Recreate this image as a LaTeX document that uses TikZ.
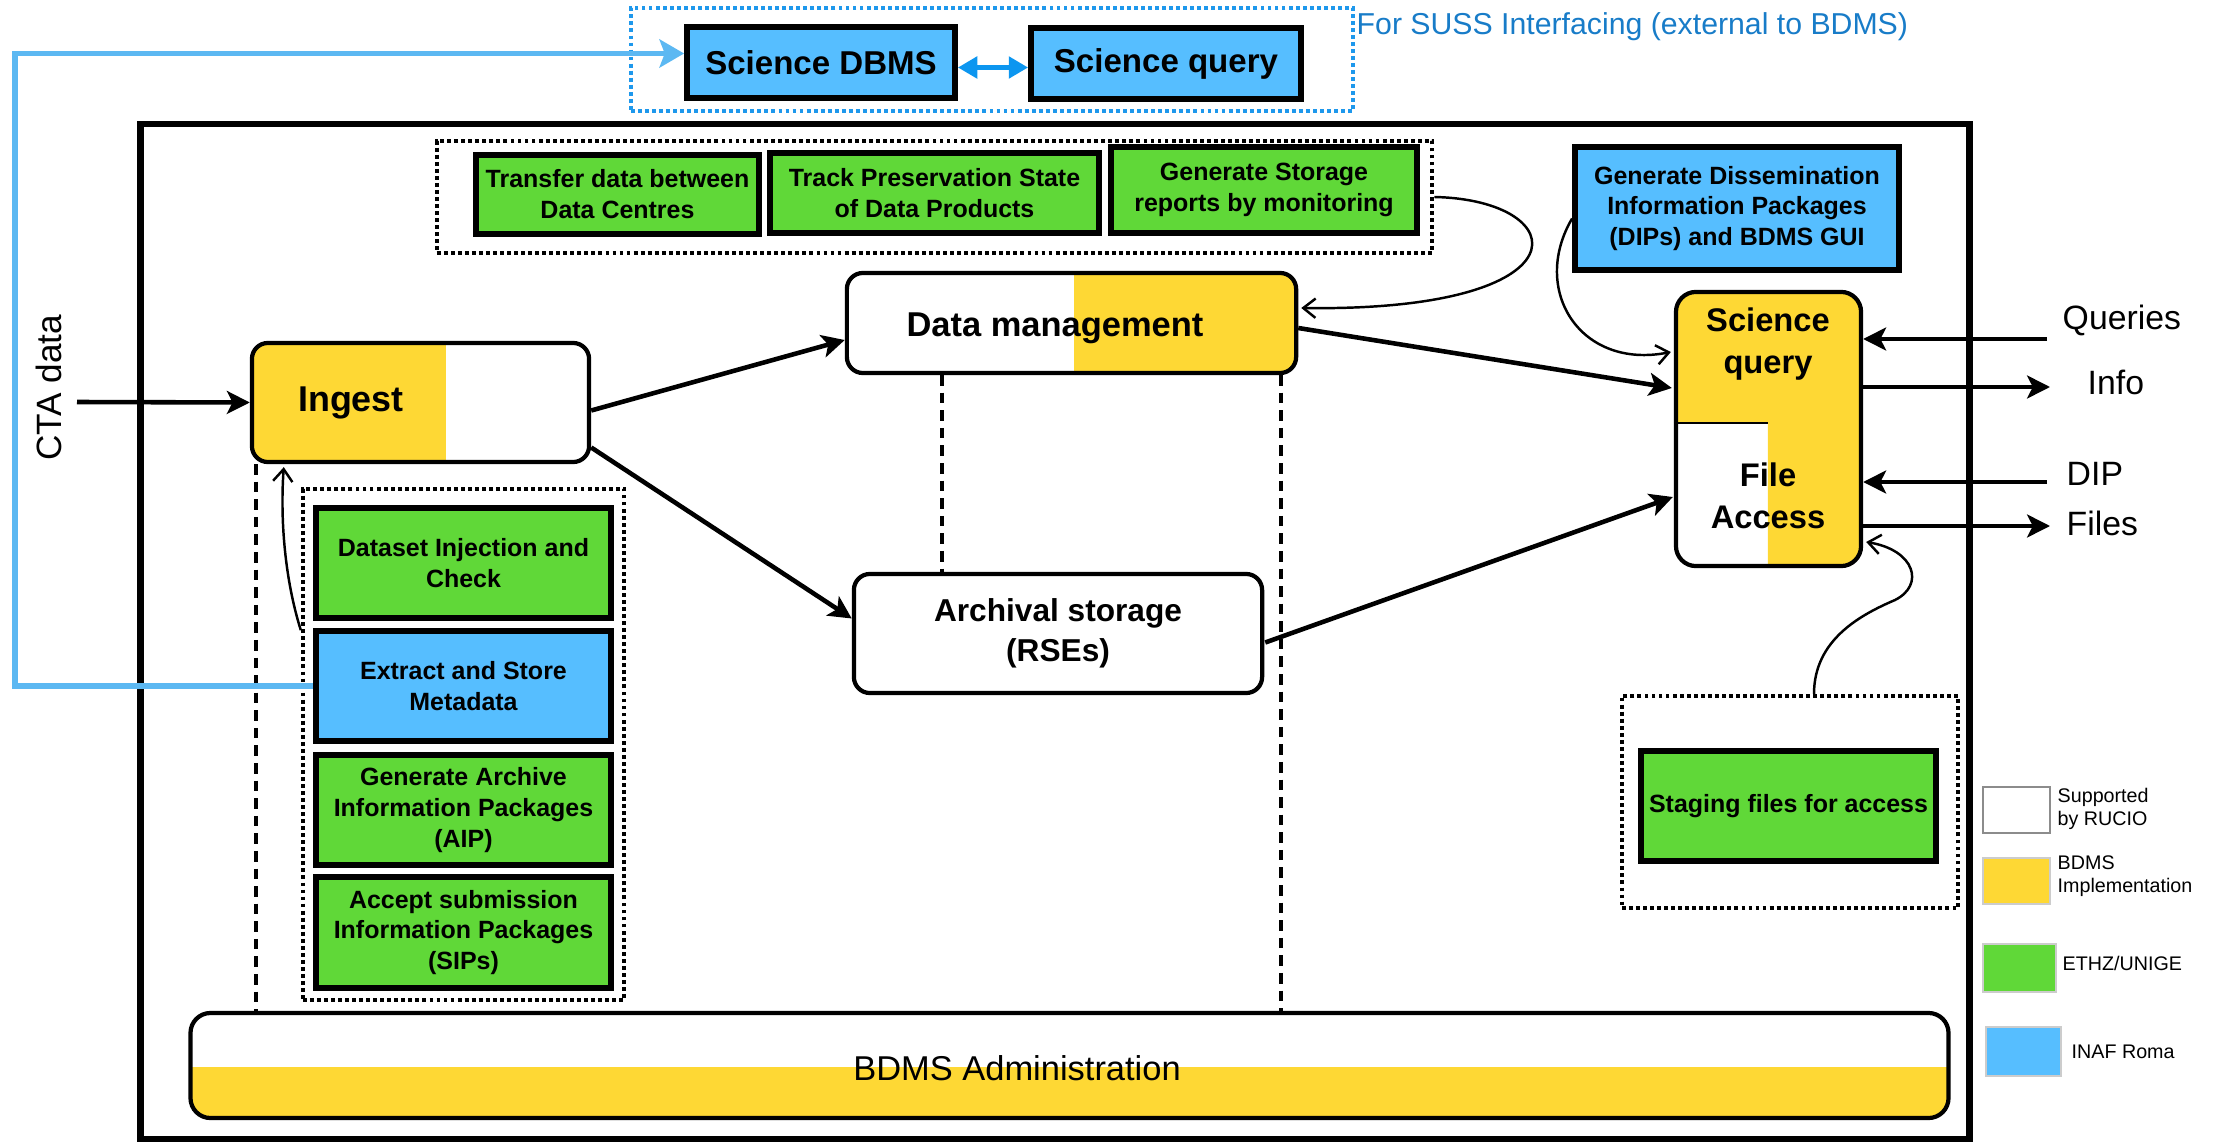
\documentclass[tikz,border=0pt]{standalone}
\usepackage{fontspec}
\setmainfont{Liberation Sans}
\usetikzlibrary{arrows.meta,calc}

\definecolor{bdmsyellow}{RGB}{254,216,52}
\definecolor{ethgreen}{RGB}{96,216,56}
\definecolor{inafblue}{RGB}{86,190,255}
\definecolor{linkblue}{RGB}{92,184,242}
\definecolor{sussblue}{RGB}{30,152,236}
\definecolor{susstext}{RGB}{24,124,200}
\definecolor{dblblue}{RGB}{12,150,240}

\begin{document}
\begin{tikzpicture}[x=0.01cm,y=-0.01cm,
  boxfont/.style={font=\fontsize{7.1}{8.8}\selectfont\bfseries},
  task/.style={draw=black,line width=1.6pt,fill=ethgreen,boxfont,align=center,inner sep=0pt},
  inaf/.style={task,fill=inafblue},
  proc/.style={draw=black,line width=1.2pt,rounded corners=0.16cm,inner sep=0pt,align=center},
  yfill/.style n args={4}{path picture={\fill[bdmsyellow,sharp corners] let \p1=(path picture bounding box.north west), \p2=(path picture bounding box.south east) in ({\x1+#1*(\x2-\x1)},{\y1+#3*(\y2-\y1)}) rectangle ({\x1+#2*(\x2-\x1)},{\y1+#4*(\y2-\y1)});}},
  dotbox/.style={draw=black,line width=1.2pt,dash pattern=on 1.1pt off 0.9pt,inner sep=0pt},
  dashline/.style={line width=1.1pt,dash pattern=on 3pt off 2pt},
  thickarrow/.style={line width=1.3pt,-{Stealth[length=6.5pt,width=6.5pt,inset=1.6pt]}},
  thinarrow/.style={line width=0.7pt,-{Straight Barb[length=3.5pt,width=5.5pt]}},
  legendbox/.style={draw=black!20,line width=0.4pt,inner sep=0pt,minimum width=0.67cm,minimum height=0.46cm},
  legendtext/.style={anchor=west,inner sep=0pt,align=left,font=\fontsize{5.6}{6.4}\selectfont},
  iolabel/.style={anchor=west,inner sep=0pt,font=\fontsize{9.6}{11}\selectfont},
  biglabel/.style={font=\fontsize{9.4}{11}\selectfont\bfseries},
]
\useasboundingbox (0,0) rectangle (2216,1143);

% ---- SUSS interfacing group (outside the BDMS frame)
\node[dotbox,draw=sussblue,minimum width=7.22cm,minimum height=1.03cm] (suss) at (992,59.5) {};
\node[inaf,biglabel,minimum width=2.68cm,minimum height=0.71cm] (sdbms) at (821,62.5) {Science DBMS};
\node[inaf,biglabel,minimum width=2.70cm,minimum height=0.71cm] (squery) at (1166,63.5) {Science query};
\node[anchor=west,inner sep=0pt,text=susstext,font=\fontsize{8.6}{10}\selectfont] (susslbl) at (1356,27) {For SUSS Interfacing (external to BDMS)};
\draw[dblblue,line width=1.5pt,{Triangle[length=5.5pt,width=6pt]}-{Triangle[length=5.5pt,width=6pt]}] ($(sdbms.east)+(0,5)$) -- ($(squery.west)+(0,4)$);

% ---- BDMS frame
\node[draw=black,line width=1.8pt,minimum width=18.28cm,minimum height=10.15cm,inner sep=0pt] (frame) at (1055,631.5) {};

% ---- data management tasks
\node[dotbox,minimum width=9.95cm,minimum height=1.12cm] (topgrp) at (934.5,197) {};
\node[task,minimum width=2.83cm,minimum height=0.79cm] (xfer) at (617.5,194.5) {Transfer data between\\Data Centres};
\node[task,minimum width=3.29cm,minimum height=0.80cm] (track) at (934.5,193) {Track Preservation State\\of Data Products};
\node[task,minimum width=3.06cm,minimum height=0.86cm] (genstor) at (1264,190) {Generate Storage\\reports by monitoring};
\node[inaf,minimum width=3.24cm,minimum height=1.23cm] (dip) at (1737,208.5) {Generate Dissemination\\Information Packages\\(DIPs) and BDMS GUI};

% ---- main processes
\node[proc,yfill={0.505}{1}{0}{1},minimum width=4.49cm,minimum height=1.00cm] (dm) at (1071.5,323) {};
\node[font=\fontsize{9.8}{12}\selectfont\bfseries,inner sep=0pt] (dmlbl) at (1055,328) {Data management};
\node[proc,yfill={0}{0.576}{0}{1},minimum width=3.37cm,minimum height=1.19cm] (ing) at (420.5,402.5) {};
\node[font=\fontsize{10.2}{12}\selectfont\bfseries,inner sep=0pt] (inglbl) at (351,403) {Ingest};
\node[proc,font=\fontsize{9}{11.4}\selectfont\bfseries,minimum width=4.08cm,minimum height=1.19cm] (arch) at (1058,633.5) {Archival storage\\(RSEs)};
\node[proc,rounded corners=0.2cm,minimum width=1.85cm,minimum height=2.74cm,
  path picture={\fill[bdmsyellow,sharp corners] let \p1=(path picture bounding box.north west), \p2=(path picture bounding box.south east) in (\p1) rectangle ({\x2},{\y1+0.478*(\y2-\y1)}) ({\x1+0.497*(\x2-\x1)},{\y1+0.478*(\y2-\y1)}) rectangle (\p2);}] (sqfa) at (1768.5,429) {};
\coordinate (sqdiv) at (1768,423);
\draw[line width=0.8pt] (sqfa.west |- sqdiv) -- (sqdiv);
\node[font=\fontsize{9.3}{12}\selectfont\bfseries,align=center,inner sep=0pt] (sqlbl) at (1768,344) {Science\\query};
\node[font=\fontsize{9.3}{12}\selectfont\bfseries,align=center,inner sep=0pt] (falbl) at (1768,496) {File\\Access};

% ---- ingest tasks
\node[dotbox,minimum width=3.21cm,minimum height=5.11cm] (lgrp) at (463.5,744.5) {};
\node[task,minimum width=2.95cm,minimum height=1.10cm] (dsinj) at (463.5,563) {Dataset Injection and\\Check};
\node[inaf,minimum width=2.95cm,minimum height=1.10cm] (ext) at (463.5,686) {Extract and Store\\Metadata};
\node[task,minimum width=2.95cm,minimum height=1.10cm] (aip) at (463.5,810) {Generate Archive\\Information Packages\\(AIP)};
\node[task,minimum width=2.95cm,minimum height=1.11cm] (sips) at (463.5,932.5) {Accept submission\\Information Packages\\(SIPs)};

% ---- administration
\node[proc,rounded corners=0.2cm,yfill={0}{1}{0.514}{1},minimum width=17.57cm,minimum height=1.05cm] (admin) at (1069.5,1065.5) {};
\node[font=\fontsize{9.8}{12}\selectfont,inner sep=0pt] (adminlbl) at (1017,1068) {BDMS Administration};

% ---- staging
\node[dotbox,minimum width=3.36cm,minimum height=2.12cm] (stggrp) at (1790,802) {};
\node[task,minimum width=2.95cm,minimum height=1.10cm] (stage) at (1788.5,806) {Staging files for access};

% ---- legend
\node[legendbox,draw=black!45,line width=0.5pt,fill=white] (legw) at (2016.5,810) {};
\node[legendbox,fill=bdmsyellow] (legy) at (2016.5,881) {};
\node[legendbox,fill=ethgreen,minimum width=0.73cm,minimum height=0.48cm] (legg) at (2019.5,968) {};
\node[legendbox,fill=inafblue,minimum width=0.75cm,minimum height=0.49cm] (legb) at (2023.5,1051.5) {};
\node[legendtext] (legwt) at (2057,809) {Supported\\by RUCIO};
\node[legendtext] (legyt) at (2057,876) {BDMS\\Implementation};
\node[legendtext] (leggt) at (2062,963) {ETHZ/UNIGE};
\node[legendtext] (legbt) at (2071,1052) {INAF Roma};

% ---- external inputs / outputs
\node[rotate=90,inner sep=0pt,font=\fontsize{10}{12}\selectfont] (cta) at (49,388) {CTA data};
\coordinate (ctasrc) at (77,402);
\draw[thickarrow] (ctasrc) -- (ing.west);

\node[iolabel] (lq) at (2062,320) {Queries};
\node[iolabel] (li) at (2087,382) {Info};
\node[iolabel] (ld) at (2066,474) {DIP};
\node[iolabel] (lf) at (2066,523) {Files};
\coordinate (qsrc) at (2047,339);
\coordinate (idst) at (2050,387);
\coordinate (dsrc) at (2047,482);
\coordinate (fdst) at (2050,526);
\draw[thickarrow] (qsrc) -- (sqfa.east |- qsrc);
\draw[thickarrow] (sqfa.east |- idst) -- (idst);
\draw[thickarrow] (dsrc) -- (sqfa.east |- dsrc);
\draw[thickarrow] (sqfa.east |- fdst) -- (fdst);

% ---- main flow
\draw[thickarrow] ($(ing.east)+(0,8)$) -- ($(dm.west)+(0,17)$);
\draw[thickarrow] ($(ing.east)+(0,45)$) -- ($(arch.west)+(0,-15)$);
\draw[thickarrow] ($(dm.east)+(0,5)$) -- ($(sqfa.west)+(-2,-41)$);
\draw[thickarrow] ($(arch.east)+(1,9)$) -- ($(sqfa.west)+(-1,68)$);

% ---- dashed links to administration
\coordinate (d1) at ($(ing.south west)+(6,0)$);
\coordinate (d2) at (942,373);
\coordinate (d3) at (1281,373);
\draw[dashline] (d1) -- (d1 |- admin.north);
\draw[dashline] (d2 |- dm.south) -- (d2 |- arch.north);
\draw[dashline] (d3 |- dm.south) -- (d3 |- admin.north);

% ---- thin feedback links
\draw[thinarrow] (topgrp.east) .. controls (1575,200) and (1590,312) .. ($(dm.east)+(3,-15)$);
\draw[thinarrow] ($(dip.west)+(0,10)$) .. controls (1530,290) and (1580,370) .. ($(sqfa.west)+(-3,-77)$);
\draw[thinarrow] ($(stggrp.north)+(24,0)$) .. controls (1814,640) and (1860,615) .. (1895,600) .. controls (1925,585) and (1915,550) .. ($(sqfa.east)+(3,113)$);
\draw[thinarrow] ($(lgrp.west |- ext.north)+(0,2)$) .. controls (285,580) and (280,520) .. ($(ing.south west)+(34,3)$);

% ---- metadata link to the science database
\coordinate (bl) at (15,0);
\draw[linkblue,line width=1.5pt,-{Stealth[length=7pt,width=8pt,inset=1.5pt]}] (ext.west) -- (ext.west -| bl) |- ($(sdbms.west)+(0,-9)$);

\end{tikzpicture}
\end{document}
